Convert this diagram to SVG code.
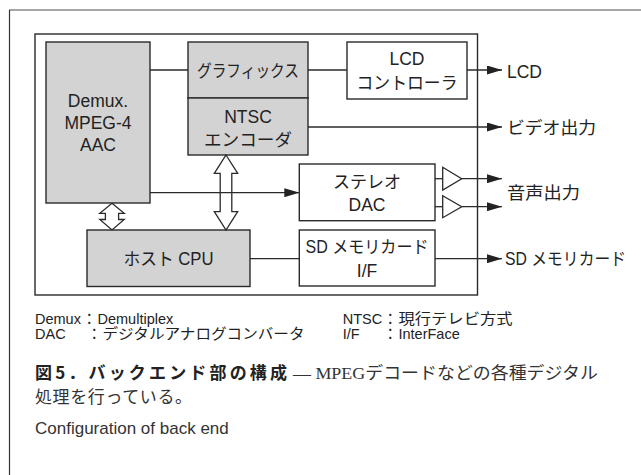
<svg xmlns="http://www.w3.org/2000/svg" width="641" height="475" viewBox="0 0 641 475">
<defs>
<style>
.box{stroke:#2a2a2a;stroke-width:1.4;fill:#fff}
.gray{fill:#d3d3d3}
.ln{stroke:#2a2a2a;stroke-width:1.3;fill:none}
.dbl{stroke:#2a2a2a;stroke-width:1.3;fill:#fff;stroke-linejoin:miter}
.t{font-family:"Liberation Sans","Noto Sans CJK JP",sans-serif;font-size:17.5px;fill:#222;text-anchor:middle}
.o{font-family:"Liberation Sans","Noto Sans CJK JP",sans-serif;font-size:17.5px;fill:#222}
.lg{font-family:"Liberation Sans","Noto Sans CJK JP",sans-serif;font-size:14.5px;fill:#222}
.cb{font-family:"Noto Sans CJK JP",sans-serif;font-size:17px;font-weight:bold;fill:#222}
.cr{font-family:"Liberation Serif","Noto Sans CJK JP",serif;font-size:17px;fill:#333}
.ce{font-family:"Liberation Sans",sans-serif;font-size:17px;fill:#333}
</style>
<marker id="ah" markerUnits="userSpaceOnUse" markerWidth="15" markerHeight="9" refX="15" refY="4.5" orient="auto">
<path d="M0,0 L15,4.5 L0,9 Z" fill="#222"/>
</marker>
</defs>
<rect width="641" height="475" fill="#fff"/>
<!-- outer frame -->
<line x1="9" y1="10" x2="641" y2="10" stroke="#888" stroke-width="1.6"/>
<line x1="9.5" y1="10" x2="9.5" y2="475" stroke="#333" stroke-width="1.2"/>
<!-- inner system box -->
<rect x="35" y="34" width="442.5" height="261" fill="none" stroke="#2a2a2a" stroke-width="1.4"/>

<g id="demux">
<rect class="box gray" x="46" y="42" width="104" height="161"/>
<text class="t" x="98" y="106.5">Demux.</text>
<text class="t" x="98" y="128.5">MPEG-4</text>
<text class="t" x="98" y="150.5">AAC</text>
</g>
<g id="graphics">
<rect class="box gray" x="188" y="42" width="120" height="56"/>
<text class="t" x="248" y="77" textLength="102" lengthAdjust="spacingAndGlyphs">グラフィックス</text>
</g>
<g id="ntsc">
<rect class="box gray" x="188" y="98" width="120" height="57"/>
<text class="t" x="248" y="122.5">NTSC</text>
<text class="t" x="248" y="145.5" textLength="88" lengthAdjust="spacingAndGlyphs">エンコーダ</text>
</g>
<g id="lcdctrl">
<rect class="box" x="347" y="42" width="120" height="57"/>
<text class="t" x="407" y="65">LCD</text>
<text class="t" x="407" y="88.5" textLength="101" lengthAdjust="spacingAndGlyphs">コントローラ</text>
</g>
<g id="dac">
<rect class="box" x="299.3" y="164" width="135.7" height="56.7"/>
<text class="t" x="367" y="187.5" textLength="68" lengthAdjust="spacingAndGlyphs">ステレオ</text>
<text class="t" x="367" y="210.5">DAC</text>
</g>
<g id="buffers">
<path class="ln" d="M442.7,167.3 L461.7,178.7 L442.7,190 Z" fill="#fff"/>
<path class="ln" d="M442.7,195.7 L461.7,206.7 L442.7,217.7 Z" fill="#fff"/>
</g>
<g id="sdif">
<rect class="box" x="299.3" y="230" width="135.7" height="56"/>
<text class="t" x="367" y="253" textLength="123" lengthAdjust="spacingAndGlyphs">SD メモリカード</text>
<text class="t" x="367" y="277">I/F</text>
</g>
<g id="cpu">
<rect class="box gray" x="87" y="230" width="163" height="56.5"/>
<text class="t" x="168.5" y="265" textLength="90" lengthAdjust="spacingAndGlyphs">ホスト CPU</text>
</g>
<g id="buses">
<polygon class="dbl" points="226,155 237.7,173.3 231.8,173.3 231.8,211.7 237.7,211.7 226,230 214.3,211.7 220.2,211.7 220.2,173.3 214.3,173.3"/>
<polygon class="dbl" points="112,203.3 124.2,213.3 118.6,213.3 118.6,219.5 124.2,219.5 112,230 99.8,219.5 105.4,219.5 105.4,213.3 99.8,213.3"/>
</g>
<g id="connectors">
<line class="ln" x1="150" y1="70" x2="188" y2="70"/>
<line class="ln" x1="308" y1="70" x2="347" y2="70"/>
<line class="ln" x1="467" y1="70" x2="502" y2="70" marker-end="url(#ah)"/>
<line class="ln" x1="308" y1="127" x2="502" y2="127" marker-end="url(#ah)"/>
<line class="ln" x1="150" y1="192.7" x2="299.3" y2="192.7" marker-end="url(#ah)"/>
<line class="ln" x1="435" y1="178.7" x2="442.7" y2="178.7"/>
<line class="ln" x1="435" y1="206.7" x2="442.7" y2="206.7"/>
<line class="ln" x1="461.7" y1="178.7" x2="502" y2="178.7" marker-end="url(#ah)"/>
<line class="ln" x1="461.7" y1="206.7" x2="502" y2="206.7" marker-end="url(#ah)"/>
<line class="ln" x1="250" y1="258.7" x2="299.3" y2="258.7"/>
<line class="ln" x1="435" y1="258.7" x2="502" y2="258.7" marker-end="url(#ah)"/>
</g>
<g id="outputs">
<text class="o" x="507" y="77.5">LCD</text>
<text class="o" x="507" y="134" textLength="89" lengthAdjust="spacingAndGlyphs">ビデオ出力</text>
<text class="o" x="507" y="199" textLength="73" lengthAdjust="spacingAndGlyphs">音声出力</text>
<text class="o" x="505" y="265" textLength="121" lengthAdjust="spacingAndGlyphs">SD メモリカード</text>
</g>
<g id="legend">
<text class="lg" x="35" y="324">Demux</text>
<text class="lg" x="82" y="324">：</text>
<text class="lg" x="97.5" y="324">Demultiplex</text>
<text class="lg" x="35" y="339">DAC</text>
<text class="lg" x="87" y="339">：</text>
<text class="lg" x="102.5" y="339" textLength="202" lengthAdjust="spacingAndGlyphs">デジタルアナログコンバータ</text>
<text class="lg" x="342.7" y="324">NTSC</text>
<text class="lg" x="383" y="324">：</text>
<text class="lg" x="398.5" y="324" textLength="114" lengthAdjust="spacingAndGlyphs">現行テレビ方式</text>
<text class="lg" x="342.7" y="339">I/F</text>
<text class="lg" x="383" y="339">：</text>
<text class="lg" x="398.5" y="339">InterFace</text>
</g>
<g id="caption">
<text class="cb" x="35" y="379" textLength="252" lengthAdjust="spacing">図5．バックエンド部の構成</text>
<text class="cr" x="293" y="379" textLength="305" lengthAdjust="spacingAndGlyphs">— MPEGデコードなどの各種デジタル</text>
<text class="cr" x="35" y="403" textLength="157" lengthAdjust="spacing">処理を行っている。</text>
<text class="ce" x="35" y="434">Configuration of back end</text>
</g>
</svg>
